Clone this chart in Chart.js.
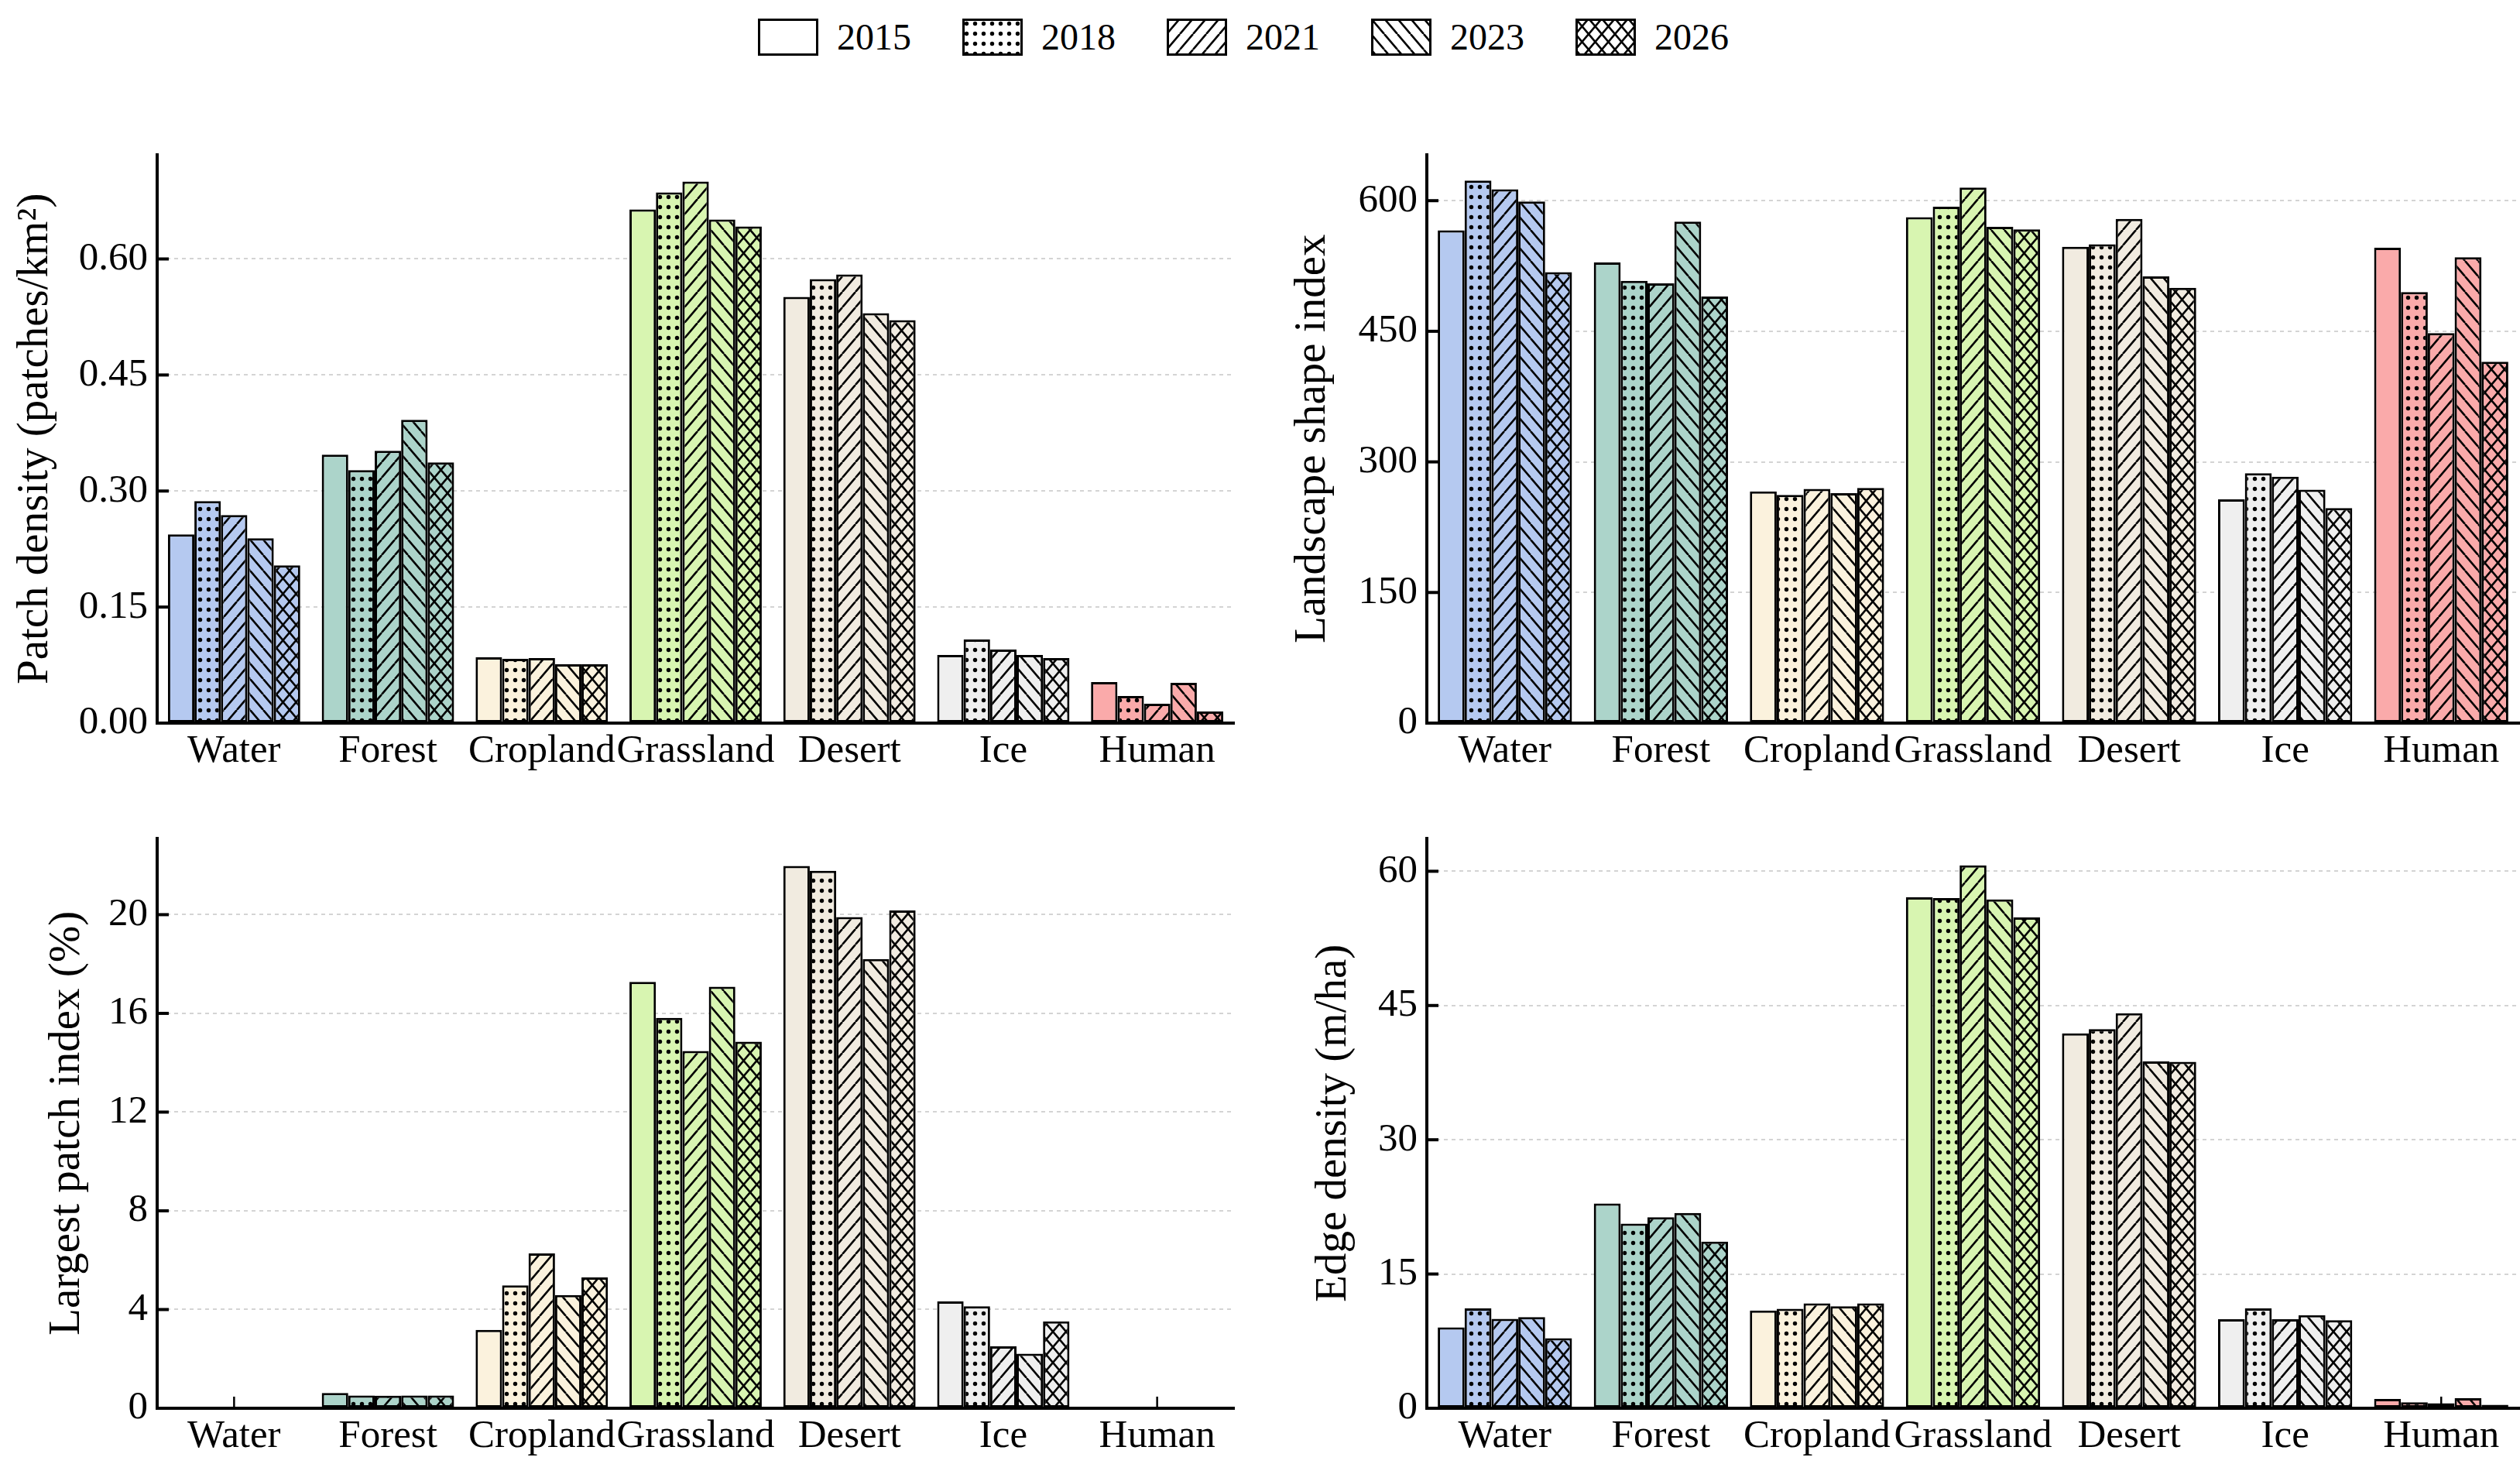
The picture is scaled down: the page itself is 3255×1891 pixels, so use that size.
<!DOCTYPE html>
<html>
<head>
<meta charset="utf-8">
<script src="https://cdn.jsdelivr.net/npm/chart.js@4.4.1/dist/chart.umd.min.js"></script>
<style>
  body { margin: 0; background: #fff; }
  #page { position: relative; width: 3255px; height: 1891px; background: #fff; overflow: hidden;
          font-family: 'Liberation Serif', 'Times New Roman', serif; }
  canvas.panel { position: absolute; }
  .item { position: absolute; top: 24px; height: 48px; display: flex; align-items: center; }
  .item span { font-size: 48px; margin-left: 24px; line-height: 48px; }
</style>
</head>
<body>
<div id="page">
  <div id="legend"></div>
  <canvas id="pd" class="panel"></canvas>
  <canvas id="lsi" class="panel"></canvas>
  <canvas id="lpi" class="panel"></canvas>
  <canvas id="ed" class="panel"></canvas>
</div>
<script>
const categories = ['Water', 'Forest', 'Cropland', 'Grassland', 'Desert', 'Ice', 'Human'];
const years = ['2015', '2018', '2021', '2023', '2026'];
const categoryColors = ['#b5c9f0', '#acd4ca', '#fbf2dd', '#d8f5b1', '#f1ebe0', '#efefef', '#faaaaa'];
const hatches = ['', 'dots', '/', '\\', 'x'];

// Patch density (patches/km2)
const pd2015 = [0.244, 0.347, 0.085, 0.664, 0.551, 0.088, 0.053];
const pd2018 = [0.287, 0.327, 0.083, 0.686, 0.574, 0.108, 0.035];
const pd2021 = [0.269, 0.352, 0.084, 0.700, 0.580, 0.095, 0.025];
const pd2023 = [0.239, 0.392, 0.076, 0.651, 0.530, 0.088, 0.052];
const pd2026 = [0.204, 0.337, 0.076, 0.642, 0.521, 0.084, 0.015];
const pdTicks = [0, 0.15, 0.30, 0.45, 0.60];

// Landscape shape index
const lsi2015 = [566, 529, 266, 581, 547, 257, 546];
const lsi2018 = [623, 508, 262, 593, 550, 287, 495];
const lsi2021 = [613, 505, 269, 615, 579, 283, 448];
const lsi2023 = [599, 576, 264, 570, 513, 268, 535];
const lsi2026 = [518, 490, 270, 567, 500, 247, 415];
const lsiTicks = [0, 150, 300, 450, 600];

// Largest patch index (%)
const lpi2015 = [0.05, 0.62, 3.18, 17.28, 21.97, 4.33, 0.02];
const lpi2018 = [0.04, 0.52, 4.98, 15.82, 21.78, 4.13, 0.01];
const lpi2021 = [0.03, 0.51, 6.27, 14.48, 19.90, 2.51, 0.01];
const lpi2023 = [0.05, 0.52, 4.59, 17.08, 18.20, 2.21, 0.03];
const lpi2026 = [0.04, 0.52, 5.30, 14.85, 20.17, 3.52, 0.01];
const lpiTicks = [0, 4, 8, 12, 16, 20];

// Edge density (m/ha)
const ed2015 = [9.05, 22.89, 10.93, 57.09, 41.89, 9.94, 1.03];
const ed2018 = [11.16, 20.64, 11.12, 57.00, 42.36, 11.16, 0.66];
const ed2021 = [9.99, 21.34, 11.73, 60.65, 44.14, 9.94, 0.56];
const ed2023 = [10.18, 21.81, 11.40, 56.86, 38.75, 10.41, 1.13];
const ed2026 = [7.83, 18.62, 11.73, 54.84, 38.70, 9.85, 0.38];
const edTicks = [0, 15, 30, 45, 60];

Chart.defaults.font.family = "'Liberation Serif', 'Times New Roman', serif";
Chart.defaults.color = '#000';

const helperCtx = document.createElement('canvas').getContext('2d');
const patternCache = {};

// hatch tile: plain colour with black dots / diagonals
function hatchFill(color, hatch) {
  if (!hatch) return color;
  const key = color + hatch;
  if (patternCache[key]) return patternCache[key];
  const tile = document.createElement('canvas');
  const w = hatch === 'dots' ? 11 : 17;
  const h = hatch === 'dots' ? 13 : 20;
  tile.width = w; tile.height = h;
  const g = tile.getContext('2d');
  g.fillStyle = color;
  g.fillRect(0, 0, w, h);
  g.fillStyle = '#000';
  g.strokeStyle = '#000';
  g.lineWidth = 2.6;
  if (hatch === 'dots') {
    g.beginPath();
    g.arc(w / 2, h / 2, 2.7, 0, Math.PI * 2);
    g.fill();
  } else {
    const fwd = hatch === '/' || hatch === 'x';
    const back = hatch === '\\' || hatch === 'x';
    g.beginPath();
    for (const k of [-w, 0, w]) {
      if (fwd) { g.moveTo(k, h); g.lineTo(k + w, 0); }
      if (back) { g.moveTo(k, 0); g.lineTo(k + w, h); }
    }
    g.stroke();
  }
  patternCache[key] = helperCtx.createPattern(tile, 'repeat');
  return patternCache[key];
}

// matplotlib-style inward ticks
const inwardTicks = {
  id: 'inwardTicks',
  beforeDatasetsDraw(chart) {
    const { ctx, chartArea, scales } = chart;
    ctx.save();
    ctx.strokeStyle = '#000';
    ctx.lineWidth = 4;
    scales.y.ticks.forEach(t => {
      const y = scales.y.getPixelForValue(t.value);
      ctx.beginPath();
      ctx.moveTo(chartArea.left, y);
      ctx.lineTo(chartArea.left + 15, y);
      ctx.stroke();
    });
    ctx.lineWidth = 2.5;
    categories.forEach((c, i) => {
      const x = scales.x.getPixelForValue(i);
      ctx.beginPath();
      ctx.moveTo(x, chartArea.bottom);
      ctx.lineTo(x, chartArea.bottom - 15);
      ctx.stroke();
    });
    ctx.restore();
  }
};

function makePanel(id, box, series, ticks, yMax, decimals, title, titlePad) {
  const cv = document.getElementById(id);
  cv.width = box.w;
  cv.height = box.h;
  cv.style.left = box.x + 'px';
  cv.style.top = box.y + 'px';

  new Chart(cv, {
    type: 'bar',
    data: {
      labels: categories,
      datasets: series.map((vals, i) => ({
        label: years[i],
        data: vals,
        backgroundColor: categoryColors.map(c => hatchFill(c, hatches[i])),
        borderColor: '#000',
        borderWidth: 3,
        borderSkipped: false,
        categoryPercentage: 0.86,
        barPercentage: 1.0
      }))
    },
    options: {
      responsive: false,
      animation: false,
      devicePixelRatio: 1,
      events: [],
      layout: { padding: { top: 40, right: box.padRight, left: 0, bottom: 0 } },
      plugins: { legend: { display: false }, tooltip: { enabled: false } },
      scales: {
        x: {
          offset: true,
          grid: { display: false, drawTicks: false },
          border: { display: true, color: '#000', width: 4 },
          ticks: { font: { size: 51 }, padding: 6, autoSkip: false, maxRotation: 0, minRotation: 0 },
          afterFit: s => { s.height = box.xh; }
        },
        y: {
          min: 0,
          max: yMax,
          afterBuildTicks: s => { s.ticks = ticks.map(v => ({ value: v })); },
          grid: {
            drawTicks: false,
            color: ctx => (ctx.tick && ctx.tick.value === 0 ? 'rgba(0,0,0,0)' : '#d4d4d4'),
            lineWidth: 2
          },
          border: { display: true, color: '#000', width: 4, dash: [5, 5] },
          ticks: {
            font: { size: 51 },
            padding: 12,
            callback: v => (decimals ? Number(v).toFixed(decimals) : String(v))
          },
          title: { display: true, text: title, font: { size: 57 }, padding: { top: titlePad, bottom: 0 } },
          afterFit: s => { s.width = box.yw; }
        }
      }
    },
    plugins: [inwardTicks]
  });
}

makePanel('pd', { x: 0, y: 157, w: 1620, h: 877, yw: 203, xh: 100, padRight: 26 },
  [pd2015, pd2018, pd2021, pd2023, pd2026], pdTicks, 0.735, 2, 'Patch density (patches/km\u00b2)', 12);
makePanel('lsi', { x: 1620, y: 157, w: 1635, h: 877, yw: 223, xh: 100, padRight: 1 },
  [lsi2015, lsi2018, lsi2021, lsi2023, lsi2026], lsiTicks, 653, 0, 'Landscape shape index', 42);
makePanel('lpi', { x: 0, y: 1040, w: 1620, h: 851, yw: 203, xh: 72, padRight: 26 },
  [lpi2015, lpi2018, lpi2021, lpi2023, lpi2026], lpiTicks, 23.1, 0, 'Largest patch index (%)', 53);
makePanel('ed', { x: 1620, y: 1040, w: 1635, h: 851, yw: 223, xh: 72, padRight: 1 },
  [ed2015, ed2018, ed2021, ed2023, ed2026], edTicks, 63.7, 0, 'Edge density (m/ha)', 69);

// shared legend
const legend = document.getElementById('legend');
years.forEach((yr, i) => {
  const item = document.createElement('div');
  item.className = 'item';
  item.style.left = (979 + i * 264) + 'px';
  const sw = document.createElement('canvas');
  sw.width = 78; sw.height = 48;
  const g = sw.getContext('2d');
  g.fillStyle = hatchFill('#ffffff', hatches[i]);
  g.fillRect(0, 0, 78, 48);
  g.strokeStyle = '#000';
  g.lineWidth = 3;
  g.strokeRect(1.5, 1.5, 75, 45);
  const txt = document.createElement('span');
  txt.textContent = yr;
  item.appendChild(sw);
  item.appendChild(txt);
  legend.appendChild(item);
});
</script>
</body>
</html>
